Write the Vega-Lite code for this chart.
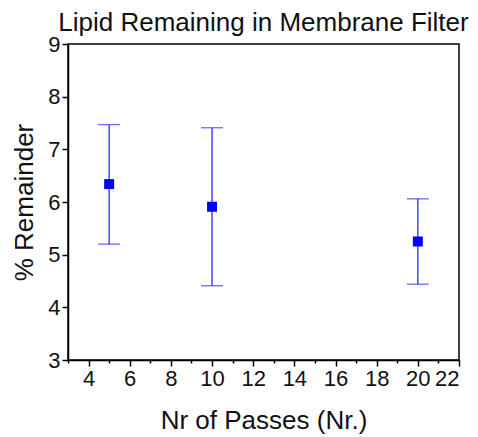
{
  "$schema": "https://vega.github.io/schema/vega-lite/v6.json",
  "autosize": "none",
  "width": 391,
  "height": 316,
  "padding": {"left": 68, "top": 44, "right": 19, "bottom": 77},
  "background": "white",
  "title": {"text": "Lipid Remaining in Membrane Filter", "font": "Liberation Sans", "fontSize": 26, "fontWeight": "normal", "color": "#111", "offset": -3},
  "config": {
    "view": {"stroke": "black", "strokeWidth": 1.5},
    "font": "Liberation Sans"
  },
  "data": {"values": [
    {"passes": 5, "mean": 6.34, "lo": 5.2, "hi": 7.47},
    {"passes": 10, "mean": 5.91, "lo": 4.41, "hi": 7.41},
    {"passes": 20, "mean": 5.25, "lo": 4.44, "hi": 6.06}
  ]},
  "encoding": {
    "x": {"field": "passes", "type": "quantitative",
      "scale": {"domain": [3, 22], "nice": false, "zero": false},
      "axis": {"title": "Nr of Passes (Nr.)", "values": [3,4,5,6,7,8,9,10,11,12,13,14,15,16,17,18,19,20,21,22],
        "labelExpr": "datum.value % 2 === 0 ? datum.label : ''",
        "tickSize": {"condition": {"test": "datum.value % 2 === 0", "value": 6}, "value": 3},
        "tickColor": "black", "tickWidth": 1.5, "domainColor": "black", "domainWidth": 1.5,
        "grid": false, "labelFontSize": 22, "labelColor": "#111", "labelPadding": 2,
        "titleFontSize": 26, "titleFontWeight": "normal", "titleColor": "#111", "titlePadding": 18}}
  },
  "layer": [
    {
      "mark": {"type": "rule", "color": "#2a2aff", "strokeWidth": 1.3},
      "encoding": {
        "y": {"field": "lo", "type": "quantitative",
          "scale": {"domain": [3, 9], "nice": false, "zero": false},
          "axis": {"title": "% Remainder", "values": [3,3.5,4,4.5,5,5.5,6,6.5,7,7.5,8,8.5,9],
            "labelExpr": "datum.value % 1 === 0 ? datum.label : ''",
            "tickSize": {"condition": {"test": "datum.value % 1 === 0", "value": 6}, "value": 3},
            "tickColor": "black", "tickWidth": 1.5, "domainColor": "black", "domainWidth": 1.5,
            "grid": false, "labelFontSize": 22, "labelColor": "#111", "labelPadding": 2,
            "titleFontSize": 26, "titleFontWeight": "normal", "titleColor": "#111", "titlePadding": 10}},
        "y2": {"field": "hi"}
      }
    },
    {
      "mark": {"type": "tick", "orient": "horizontal", "color": "#2a2aff", "thickness": 1.3, "size": 22},
      "encoding": {"y": {"field": "lo", "type": "quantitative"}}
    },
    {
      "mark": {"type": "tick", "orient": "horizontal", "color": "#2a2aff", "thickness": 1.3, "size": 22},
      "encoding": {"y": {"field": "hi", "type": "quantitative"}}
    },
    {
      "mark": {"type": "square", "color": "#0000ff", "filled": true, "opacity": 1, "size": 100},
      "encoding": {"y": {"field": "mean", "type": "quantitative"}}
    }
  ]
}
